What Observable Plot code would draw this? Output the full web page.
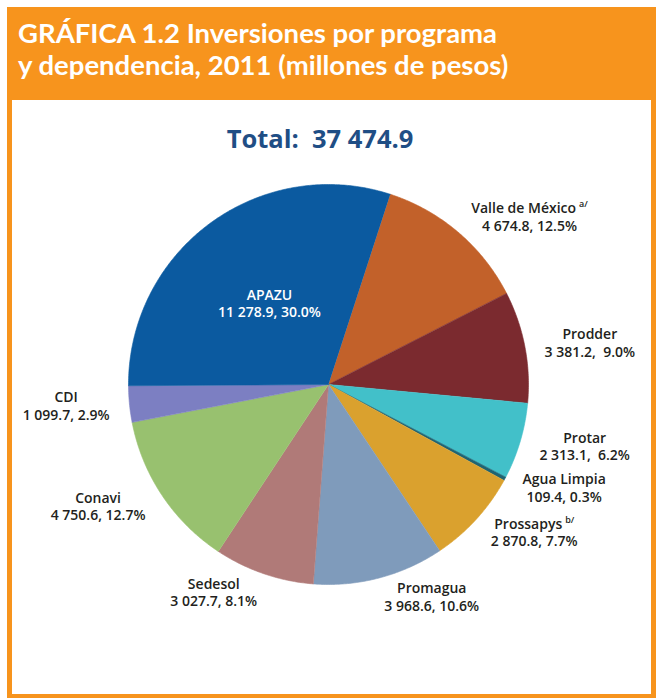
<!DOCTYPE html>
<html>
<head>
<meta charset="utf-8">
<script src="https://cdn.jsdelivr.net/npm/d3@7"></script>
<script src="https://cdn.jsdelivr.net/npm/@observablehq/plot@0.6"></script>
<style>
  html, body { margin: 0; padding: 0; background: #fff; }
  #frame { position: absolute; left: 7px; top: 7px; width: 649px; height: 691px; background: #f7941d; }
  #title { position: absolute; left: 18px; top: 17px; color: #fff; font-family: Lato, sans-serif; font-weight: 700;
           font-size: 27.5px; line-height: 32px; white-space: nowrap; }
  #panel { position: absolute; left: 12px; top: 100px; width: 639px; height: 594px; background: #fff; }
  #total { position: absolute; left: 0; width: 640px; top: 121px; text-align: center; color: #1f4e85;
           font-family: "Open Sans", sans-serif; font-weight: 700; font-size: 25.5px; white-space: pre; }
  #chart { position: absolute; left: 12px; top: 155px; }
</style>
</head>
<body>
<div id="frame"></div>
<div id="panel"></div>
<div id="title">GRÁFICA 1.2 Inversiones por programa<br>y dependencia, 2011 (millones de pesos)</div>
<div id="total"></div>
<div id="chart"></div>
<script>
// ---- data (clockwise order, starting after APAZU at the top) ----
const programs = ["Valle de México", "Prodder", "Protar", "Agua Limpia", "Prossapys", "Promagua", "Sedesol", "Conavi", "CDI", "APAZU"];
const notes    = ["a/", "", "", "", "b/", "", "", "", "", ""];
const amounts  = [4674.8, 3381.2, 2313.1, 109.4, 2870.8, 3968.6, 3027.7, 4750.6, 1099.7, 11278.9];
const percents = [12.5, 9.0, 6.2, 0.3, 7.7, 10.6, 8.1, 12.7, 2.9, 30.0];
const totalAmount = 37474.9;

// ---- styles ----
const palette = ["#c2612a", "#7b2a2f", "#42c0c9", "#1e6473", "#daa12e", "#7f9bbb", "#b07a78", "#98c16f", "#7c7fc2", "#0b5aa0"];
const FS = 14;
const labelFont = "600 " + FS + "px 'Open Sans'";
const supFont = "600 9px 'Open Sans'";

const fmt = d3.formatLocale({decimal: ".", thousands: " ", grouping: [3]}).format(",.1f");
document.getElementById("total").textContent = "Total:  " + fmt(totalAmount);

const W = 639, H = 539, R = 200, cx = 316, cy = 229;
const startDeg = 18;

const arcs = d3.pie().sort(null)
  .startAngle(startDeg * Math.PI / 180)
  .endAngle(startDeg * Math.PI / 180 + 2 * Math.PI)(amounts);

// slice outlines in unit coordinates (radius 1, y up)
const polys = [];
arcs.forEach((a, i) => {
  polys.push({name: programs[i], x: 0, y: 0});
  const n = Math.max(2, Math.ceil((a.endAngle - a.startAngle) / (Math.PI / 360)));
  for (let k = 0; k <= n; k++) {
    const t = a.startAngle + (a.endAngle - a.startAngle) * k / n;
    polys.push({name: programs[i], x: Math.sin(t), y: Math.cos(t)});
  }
});

// label layout
const ctx = document.createElement("canvas").getContext("2d");
function tw(s, f) { ctx.font = f; return ctx.measureText(s).width; }
const line1 = [], line2 = [], sups = [], inside = [];
arcs.forEach((a, i) => {
  const m = (a.startAngle + a.endAngle) / 2;
  const l2 = fmt(amounts[i]) + ",\u00a0" + (percents[i] < 10 && (i === 1 || i === 2) ? "\u00a0" : "") + percents[i].toFixed(1) + "%";
  if (percents[i] > 25) {
    inside.push({x: 0.5 * Math.sin(m), y: 0.5 * Math.cos(m), t1: programs[i], t2: l2});
    return;
  }
  const ax = 1.1 * Math.sin(m), ay = 1.1 * Math.cos(m);
  const s = Math.sign(Math.sin(m)) || 1;
  const w1 = tw(programs[i], labelFont);
  const gap = notes[i] ? 3 : 0;
  const ws = notes[i] ? tw(notes[i], supFont) : 0;
  const u1 = w1 + gap + ws;
  const w2 = tw(l2, labelFont);
  const bw = Math.max(u1, w2);
  const bcx = ax + s * bw / 2 / R;           // block centre (units)
  const left1 = bcx - u1 / 2 / R;
  line1.push({x: left1 + w1 / 2 / R, y: ay, t: programs[i]});
  line2.push({x: bcx, y: ay, t: l2});
  if (notes[i]) sups.push({x: left1 + (w1 + gap) / R, y: ay, t: notes[i]});
});

const chart = Plot.plot({
  width: W, height: H, margin: 0,
  x: {domain: [-cx / R, (W - cx) / R], axis: null},
  y: {domain: [-(H - cy) / R, cy / R], axis: null},
  color: {domain: programs, range: palette},
  style: {background: "transparent", overflow: "visible"},
  marks: [
    Plot.line(polys, {x: "x", y: "y", z: "name", fill: "name", stroke: "name", strokeWidth: 0.6, curve: "linear"}),
    Plot.text(line1, {x: "x", y: "y", text: "t", dy: -8.5, fontFamily: "Open Sans", fontWeight: 600, fontSize: FS, fill: "#231f20"}),
    Plot.text(line2, {x: "x", y: "y", text: "t", dy: 9, fontFamily: "Open Sans", fontWeight: 600, fontSize: FS, fill: "#231f20"}),
    Plot.text(sups, {x: "x", y: "y", text: "t", dy: -13, textAnchor: "start", fontFamily: "Open Sans", fontWeight: 600, fontSize: 9, fill: "#231f20"}),
    Plot.text(inside, {x: "x", y: "y", text: "t1", dy: -8.5, fontFamily: "Open Sans", fontWeight: 600, fontSize: FS, fill: "white"}),
    Plot.text(inside, {x: "x", y: "y", text: "t2", dy: 9, fontFamily: "Open Sans", fontWeight: 600, fontSize: FS, fill: "white"})
  ]
});
document.getElementById("chart").appendChild(chart);
</script>
</body>
</html>
